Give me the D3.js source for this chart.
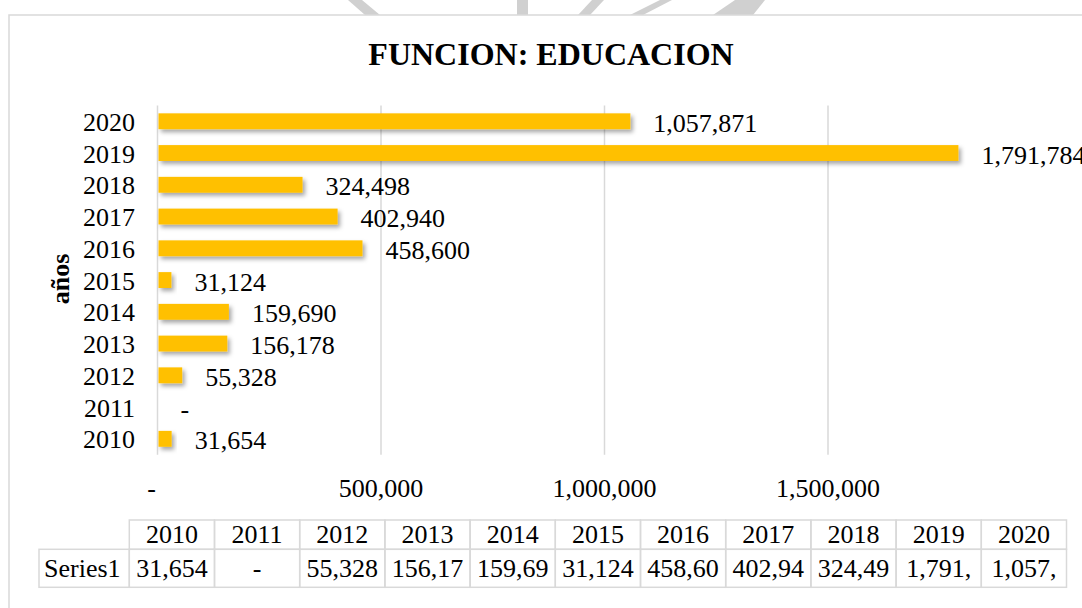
<!DOCTYPE html>
<html>
<head>
<meta charset="utf-8">
<script src="https://cdn.jsdelivr.net/npm/d3@7"></script>
<style>
	html, body { margin: 0; padding: 0; background: #fff; }
	svg { display: block; font-family: 'Liberation Serif', 'Times New Roman', serif; }
</style>
</head>
<body>
<svg id="chart"></svg>
<script>
// chart data
const years = ['2010', '2011', '2012', '2013', '2014', '2015', '2016', '2017', '2018', '2019', '2020'],
	values = [31654, 0, 55328, 156178, 159690, 31124, 458600, 402940, 324498, 1791784, 1057871],
	xTickValues = [0, 500000, 1000000, 1500000],
	xDomainMax = 2000000,
	chartTitle = 'FUNCION: EDUCACION',
	yAxisTitle = 'años',
	seriesName = 'Series1';

;(() => {
	'use strict';

	const width = 1082,
		height = 608,
		fontSize = 26,
		barColor = '#ffc000',
		gridColor = '#d9d9d9';

	const svg = d3.select('#chart')
		.attr('width', width)
		.attr('height', height);

	const data = years.map((y, i) => ({ year: y, value: values[i] }));

	// accounting style: zero shows as a dash
	const fmt = function(v) {
		return v === 0 ? '-' : d3.format(',')(v);
	};

	const x = d3.scaleLinear().domain([0, xDomainMax]).range([157.5, 1051.5]),
		y = d3.scaleBand().domain(years.slice().reverse()).range([105.4, 454.7])
			.paddingInner(0.5).paddingOuter(0.25),
		tableX = d3.scaleBand().domain(years).range([129.3, 1066.5]);


	/**
	* background watermark fragments and chart frame
	* @returns {undefined}
	*/
	const drawFrame = function() {
		const marks = [
			[[348, 0], [362, 0], [380, 15], [365, 15]],
			[[517, 0], [528, 0], [528, 15], [517, 15]],
			[[592, 0], [604, 0], [590, 15], [578, 15]],
			[[660, 0], [672, 0], [643, 15], [630, 15]],
			[[735, 0], [765, 0], [753, 15], [713, 15]]
		];
		svg.append('g')
			.selectAll('polygon')
			.data(marks)
			.enter()
			.append('polygon')
			.attr('points', (d) => d.map((p) => p.join(',')).join(' '))
			.attr('fill', '#d0d0d0');

		svg.append('rect')
			.attr('x', 9)
			.attr('y', 15)
			.attr('width', width)
			.attr('height', height)
			.attr('fill', '#fff')
			.attr('stroke', gridColor)
			.attr('stroke-width', 1.5);
	};


	/**
	* gridlines, bars and labels
	* @returns {undefined}
	*/
	const drawBars = function() {
		const defs = svg.append('defs');
		defs.append('filter')
			.attr('id', 'shadow')
			.attr('x', '-20%').attr('y', '-50%')
			.attr('width', '160%').attr('height', '220%')
			.append('feDropShadow')
			.attr('dx', 2.5)
			.attr('dy', 3)
			.attr('stdDeviation', 2)
			.attr('flood-color', '#000')
			.attr('flood-opacity', 0.35);

		const [y0, y1] = y.range();

		// gridlines
		svg.append('g')
			.selectAll('line')
			.data(xTickValues)
			.enter()
			.append('line')
			.attr('x1', (d) => x(d))
			.attr('x2', (d) => x(d))
			.attr('y1', y0)
			.attr('y2', y1)
			.attr('stroke', gridColor)
			.attr('stroke-width', 1.5);

		// bars
		svg.append('g')
			.selectAll('rect')
			.data(data.filter((d) => d.value > 0))
			.enter()
			.append('rect')
			.attr('x', x(0) + 1)
			.attr('y', (d) => y(d.year))
			.attr('width', (d) => x(d.value) - x(0) - 1)
			.attr('height', y.bandwidth())
			.attr('fill', barColor)
			.attr('filter', 'url(#shadow)');

		// data labels
		svg.append('g')
			.selectAll('text')
			.data(data)
			.enter()
			.append('text')
			.attr('x', (d) => x(d.value) + 23)
			.attr('y', (d) => y(d.year) + y.bandwidth() / 2 + 10.5)
			.attr('font-size', fontSize)
			.text((d) => fmt(d.value));

		// category axis
		svg.append('g')
			.selectAll('text')
			.data(years)
			.enter()
			.append('text')
			.attr('x', 135)
			.attr('y', (d) => y(d) + y.bandwidth() / 2 + 9.5)
			.attr('text-anchor', 'end')
			.attr('font-size', fontSize)
			.text((d) => d);

		// value axis labels
		svg.append('g')
			.selectAll('text')
			.data(xTickValues)
			.enter()
			.append('text')
			.attr('x', (d) => x(d))
			.attr('dx', (d) => d === 0 ? -6 : 0)
			.attr('y', 496.5)
			.attr('text-anchor', 'middle')
			.attr('font-size', fontSize)
			.text(fmt);
	};


	/**
	* title and axis title
	* @returns {undefined}
	*/
	const drawTitles = function() {
		svg.append('text')
			.attr('x', 551)
			.attr('y', 65)
			.attr('text-anchor', 'middle')
			.attr('font-size', 32)
			.attr('font-weight', 'bold')
			.text(chartTitle);

		svg.append('text')
			.attr('transform', 'translate(69,279) rotate(-90)')
			.attr('text-anchor', 'middle')
			.attr('font-size', fontSize)
			.attr('font-weight', 'bold')
			.text(yAxisTitle);
	};


	/**
	* data table below the plot
	* @returns {undefined}
	*/
	const drawTable = function() {
		const top = 520,
			mid = 549.3,
			bottom = 587.3,
			legendLeft = 39,
			cw = tableX.bandwidth(),
			table = svg.append('g');

		const cells = [];
		years.forEach((yr) => {
			cells.push({ x: tableX(yr), y: top, w: cw, h: mid - top });
			cells.push({ x: tableX(yr), y: mid, w: cw, h: bottom - mid });
		});
		cells.push({ x: legendLeft, y: mid, w: tableX.range()[0] - legendLeft, h: bottom - mid });

		table.selectAll('rect')
			.data(cells)
			.enter()
			.append('rect')
			.attr('x', (d) => d.x)
			.attr('y', (d) => d.y)
			.attr('width', (d) => d.w)
			.attr('height', (d) => d.h)
			.attr('fill', 'none')
			.attr('stroke', gridColor)
			.attr('stroke-width', 1.5);

		table.selectAll('.head')
			.data(years)
			.enter()
			.append('text')
			.attr('class', 'head')
			.attr('x', (d) => tableX(d) + cw / 2)
			.attr('y', 543.3)
			.attr('text-anchor', 'middle')
			.attr('font-size', fontSize)
			.text((d) => d);

		table.append('text')
			.attr('x', legendLeft + 5)
			.attr('y', 576.7)
			.attr('font-size', fontSize)
			.text(seriesName);

		// values get cut off when they don't fit the cell, like excel does
		table.selectAll('.val')
			.data(data)
			.enter()
			.append('text')
			.attr('class', 'val')
			.attr('x', (d) => tableX(d.year) + cw / 2)
			.attr('y', 576.7)
			.attr('text-anchor', 'middle')
			.attr('font-size', fontSize)
			.text((d) => fmt(d.value))
			.each(function() {
				const el = d3.select(this);
				let txt = el.text();
				while (this.getComputedTextLength() > cw - 10 && txt.length > 1) {
					txt = txt.slice(0, -1);
					el.text(txt);
				}
			});
	};


	const init = function() {
		drawFrame();
		drawBars();
		drawTitles();
		drawTable();
	};

	init();

})();
</script>
</body>
</html>
